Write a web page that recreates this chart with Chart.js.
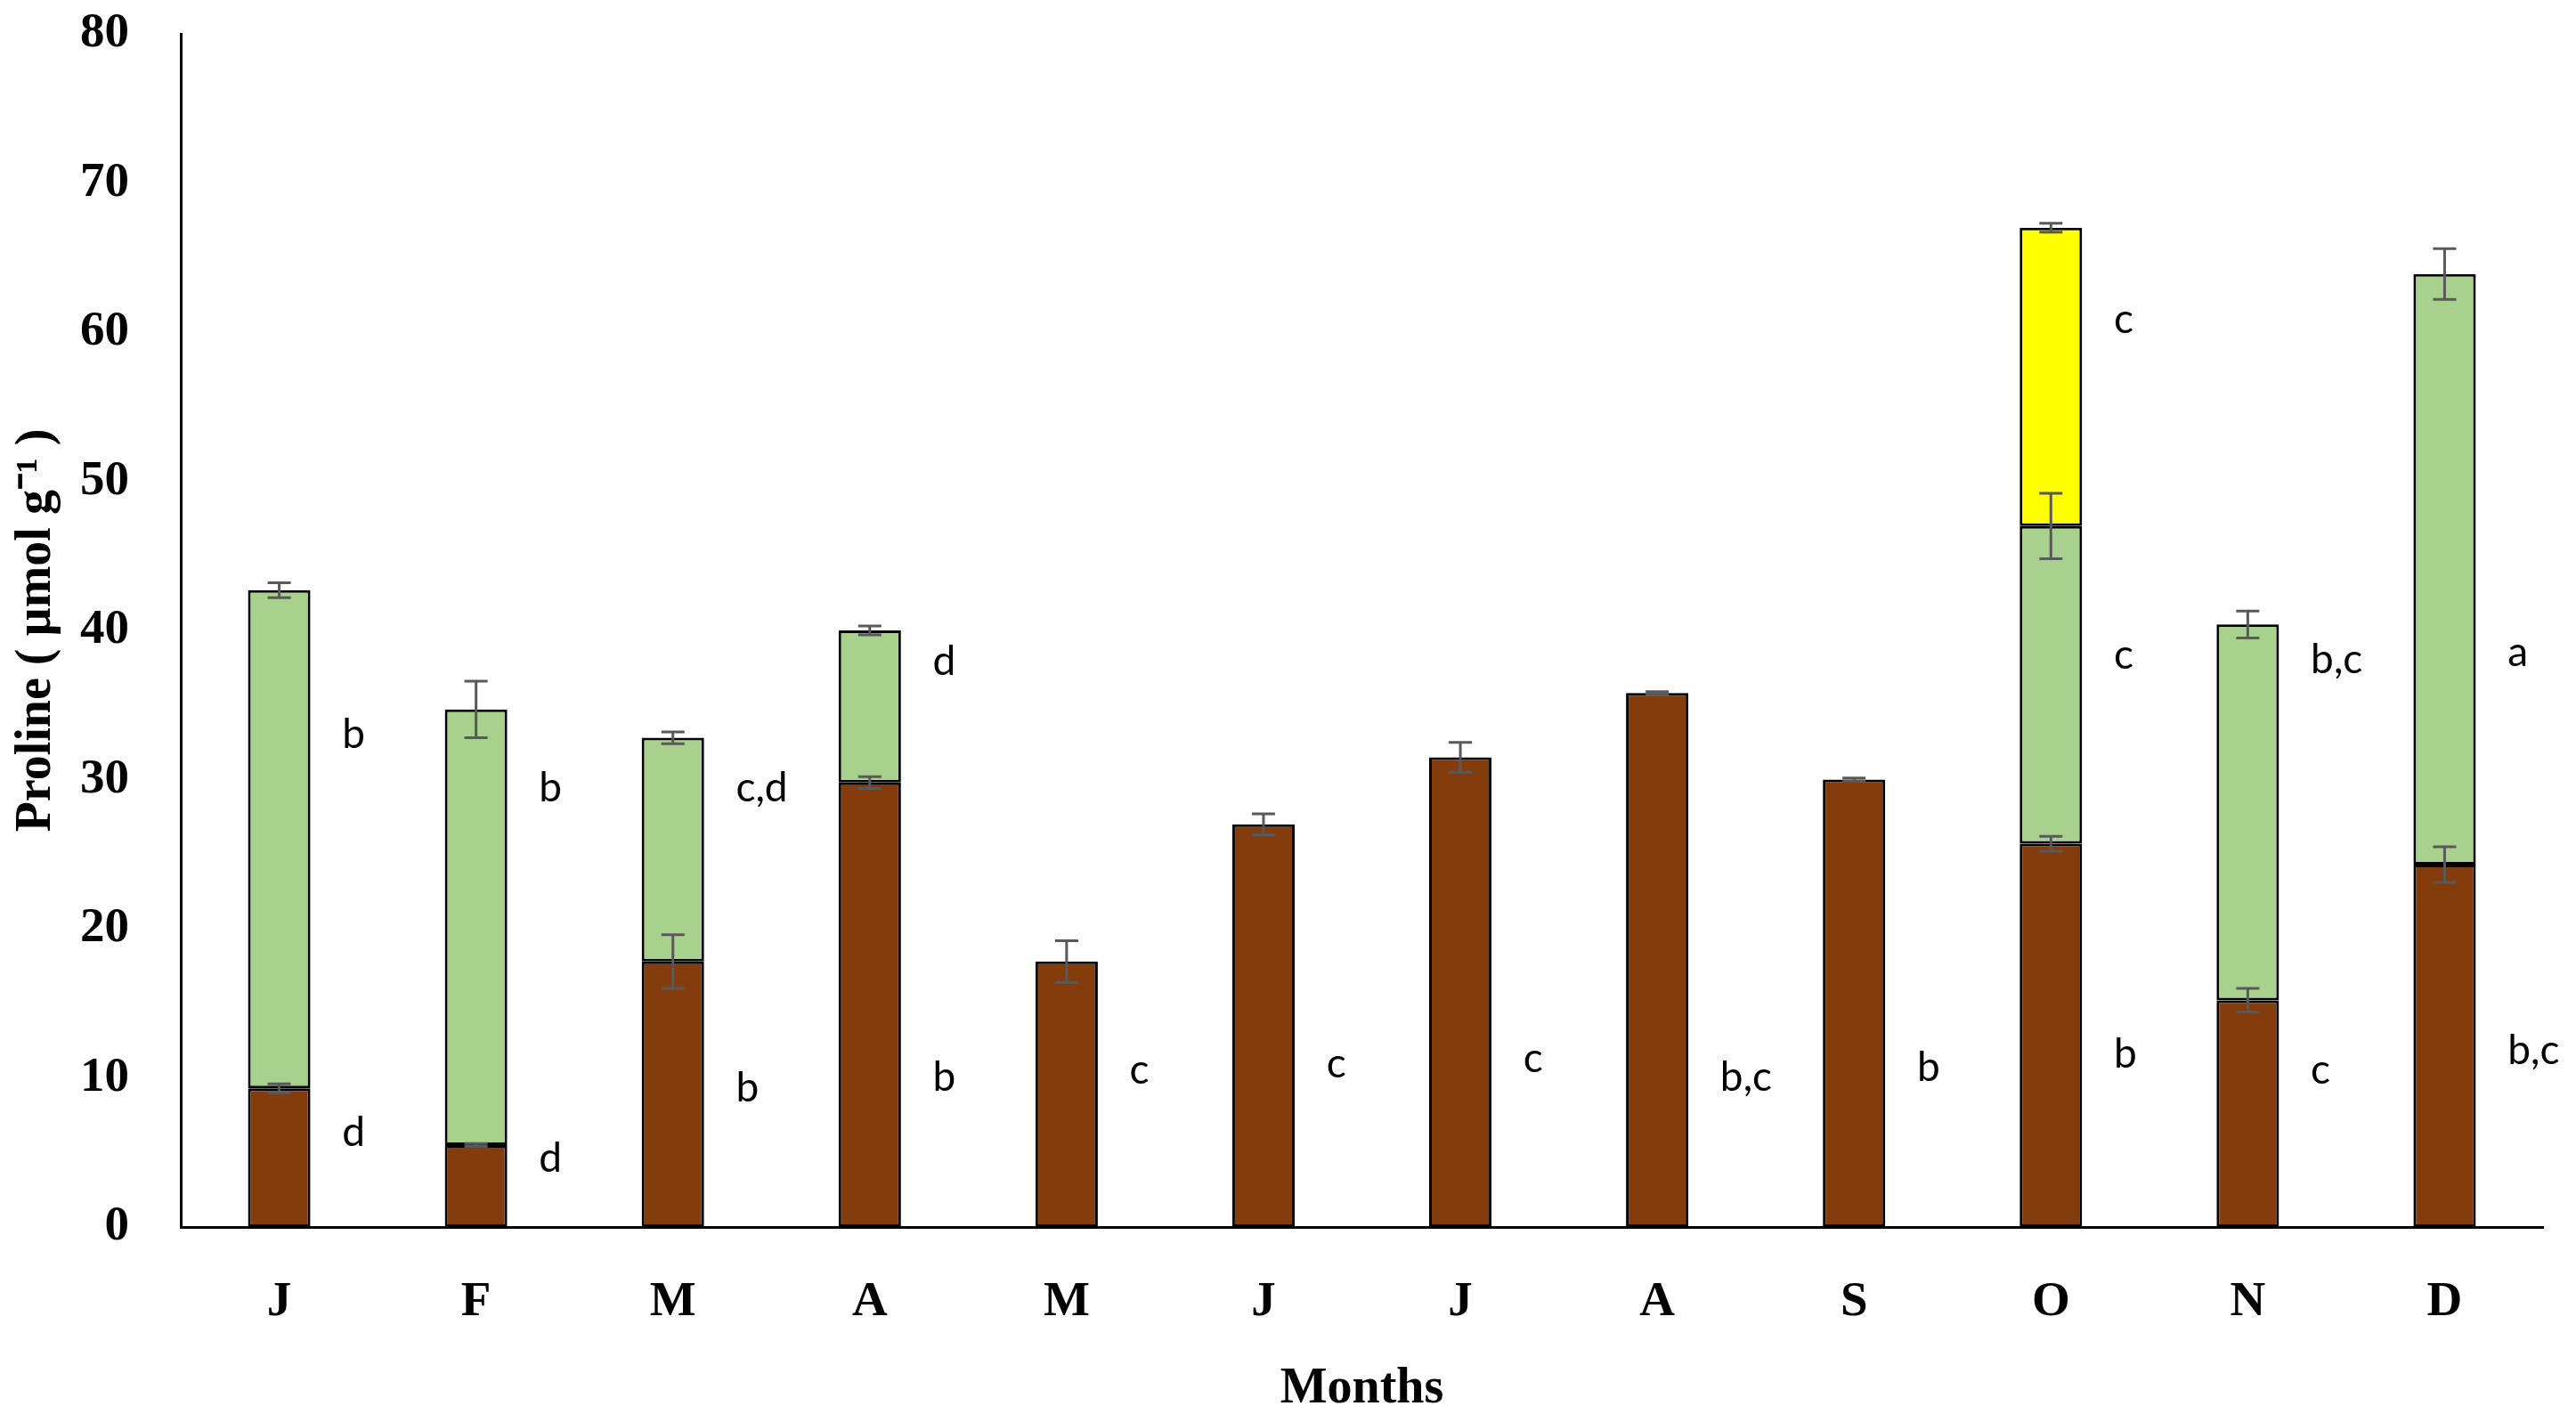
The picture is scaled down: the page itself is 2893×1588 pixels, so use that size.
<!DOCTYPE html>
<html>
<head>
<meta charset="utf-8">
<script src="https://cdn.jsdelivr.net/npm/chart.js@4"></script>
<style>
    html, body { margin: 0; padding: 0; background: #ffffff; }
    #wrap { width: 2893px; height: 1588px; }
</style>
</head>
<body>
<div id="wrap"><canvas id="proline-chart" width="2893" height="1588"></canvas></div>
<script>
// months on the x axis
const months = ['J', 'F', 'M', 'A', 'M', 'J', 'J', 'A', 'S', 'O', 'N', 'D'];

// stacked segments (brown / green / yellow), µmol g-1
const brownValues = [9.3, 5.5, 17.8, 29.8, 17.8, 27.0, 31.5, 35.8, 30.0, 25.7, 15.2, 24.3];
const greenValues = [33.4, 29.2, 15.0, 10.2, null, null, null, null, null, 21.3, 25.2, 39.6];
const yellowValues = [null, null, null, null, null, null, null, null, null, 20.0, null, null];

// error bars at the top of each segment
const brownErrors = [0.3, 0.1, 1.8, 0.4, 1.4, 0.7, 1.0, 0.1, 0.1, 0.5, 0.8, 1.2];
const greenErrors = [0.5, 1.9, 0.4, 0.3, null, null, null, null, null, 2.2, 0.9, 1.7];
const yellowErrors = [null, null, null, null, null, null, null, null, null, 0.3, null, null];

// significance letters and the value they sit at
const brownLetters = ['d', 'd', 'b', 'b', 'c', 'c', 'c', 'b,c', 'b', 'b', 'c', 'b,c'];
const brownLetterAt = [6.3, 4.6, 9.3, 10.0, 10.5, 10.9, 11.3, 10.0, 10.7, 11.6, 10.5, 11.8];
const greenLetters = ['b', 'b', 'c,d', 'd', null, null, null, null, null, 'c', 'b,c', 'a'];
const greenLetterAt = [33.0, 29.4, 29.4, 37.9, null, null, null, null, null, 38.3, 38.0, 38.5];
const yellowLetters = [null, null, null, null, null, null, null, null, null, 'c', null, null];
const yellowLetterAt = [null, null, null, null, null, null, null, null, null, 60.8, null, null];

const yTicks = [0, 10, 20, 30, 40, 50, 60, 70, 80];

const serif = "'Liberation Serif', 'Times New Roman', serif";

const errorSets = [brownErrors, greenErrors, yellowErrors];
const letterSets = [
    [brownLetters, brownLetterAt],
    [greenLetters, greenLetterAt],
    [yellowLetters, yellowLetterAt]
];

// draws error bars and letters on top of the bars
const annotations = {
    id: 'annotations',
    afterDatasetsDraw(chart) {
        const ctx = chart.ctx;
        const x = chart.scales.x;
        const y = chart.scales.y;

        ctx.save();
        ctx.strokeStyle = '#595959';
        ctx.lineWidth = 3;
        errorSets.forEach((errs, i) => {
            const meta = chart.getDatasetMeta(i);
            meta.data.forEach((bar, j) => {
                if (errs[j] == null) return;
                const top = y.getValueForPixel(bar.y);
                const y1 = y.getPixelForValue(top + errs[j]);
                const y2 = y.getPixelForValue(top - errs[j]);
                const cap = 13;
                ctx.beginPath();
                ctx.moveTo(bar.x, y1);
                ctx.lineTo(bar.x, y2);
                ctx.moveTo(bar.x - cap, y1);
                ctx.lineTo(bar.x + cap, y1);
                ctx.moveTo(bar.x - cap, y2);
                ctx.lineTo(bar.x + cap, y2);
                ctx.stroke();
            });
        });

        ctx.fillStyle = '#000000';
        ctx.font = "46px Lato, 'Open Sans', sans-serif";
        ctx.textAlign = 'left';
        ctx.textBaseline = 'middle';
        const step = x.getPixelForValue(1) - x.getPixelForValue(0);
        letterSets.forEach(([letters, at]) => {
            letters.forEach((txt, j) => {
                if (!txt) return;
                ctx.fillText(txt, x.getPixelForValue(j) + step * 0.32, y.getPixelForValue(at[j]));
            });
        });
        ctx.restore();
    }
};

const makeSet = (label, data, color) => ({
    label,
    data,
    backgroundColor: color,
    borderColor: '#000000',
    borderWidth: 3,
    borderSkipped: false,
    barPercentage: 0.317,
    categoryPercentage: 1.0
});

new Chart(document.getElementById('proline-chart'), {
    type: 'bar',
    data: {
        labels: months,
        datasets: [
            makeSet('Stage 1', brownValues, '#843C0C'),
            makeSet('Stage 2', greenValues, '#A9D18E'),
            makeSet('Stage 3', yellowValues, '#FFFF00')
        ]
    },
    plugins: [annotations],
    options: {
        responsive: false,
        animation: false,
        layout: {
            padding: { top: 38, right: 37, left: 0, bottom: 0 }
        },
        plugins: {
            legend: { display: false },
            tooltip: { enabled: false }
        },
        scales: {
            x: {
                stacked: true,
                grid: { display: false, drawTicks: false },
                border: { display: true, color: '#000000', width: 3 },
                ticks: {
                    color: '#000000',
                    padding: 52,
                    font: { family: serif, size: 55, weight: 'bold' }
                },
                title: {
                    display: true,
                    text: 'Months',
                    color: '#000000',
                    padding: { top: 0, bottom: -6 },
                    font: { family: serif, size: 56, weight: 'bold' }
                },
                afterFit: (scale) => {
                    scale.height = 210;
                    scale.paddingLeft = 0;
                    scale.paddingRight = 0;
                }
            },
            y: {
                stacked: true,
                min: 0,
                max: 80,
                afterBuildTicks: (scale) => { scale.ticks = yTicks.map(v => ({ value: v })); },
                grid: { display: false, drawTicks: false },
                border: { display: true, color: '#000000', width: 3 },
                ticks: {
                    color: '#000000',
                    padding: 58,
                    font: { family: serif, size: 55, weight: 'bold' }
                },
                title: {
                    display: true,
                    text: 'Proline ( µmol g⁻¹ )',
                    color: '#000000',
                    padding: { top: 8, bottom: 0 },
                    font: { family: serif, size: 56, weight: 'bold' }
                },
                afterFit: (scale) => {
                    scale.width = 203;
                    scale.paddingTop = 0;
                    scale.paddingBottom = 0;
                }
            }
        }
    }
});
</script>
</body>
</html>
